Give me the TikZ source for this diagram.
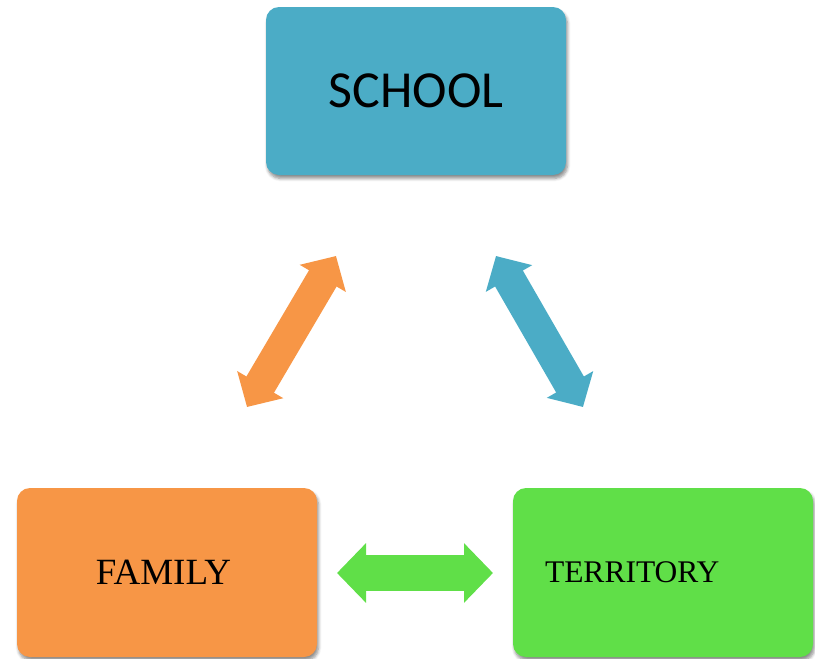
\documentclass[tikz,border=0pt]{standalone}
\usepackage{fontspec}
\setmainfont{Liberation Serif}
\newfontfamily\schoolfont{Carlito}
\usetikzlibrary{arrows.meta,shadows.blur}
\definecolor{cblue}{RGB}{75,172,198}
\definecolor{corange}{RGB}{247,150,70}
\definecolor{cgreen}{RGB}{96,223,72}
\tikzset{
  box/.style={rounded corners=13pt, minimum width=300pt, minimum height=168pt,
    inner sep=0pt, text=black,
    blur shadow={shadow xshift=1.5pt, shadow yshift=-3.5pt, shadow blur steps=6, shadow opacity=45, shadow blur radius=3pt}},
}
\begin{document}
\begin{tikzpicture}[x=1pt,y=-1pt]
\useasboundingbox (0,0) rectangle (815,659);
\node[box, fill=cblue, font=\schoolfont\fontsize{52}{60}\selectfont] (school) at (416,91) {SCHOOL};
\node[box, fill=corange, minimum height=169pt, text width=300pt, align=center, font=\fontsize{37}{44}\selectfont] (family) at (167,572.5) {\hspace*{-7pt}FAMILY};
\node[box, fill=cgreen, minimum height=169pt, text width=236pt, align=left, inner xsep=32pt, font=\fontsize{31.5}{38}\selectfont] (territory) at (663,572.5) {TERRITORY};
% arrows
\coordinate (oa) at (247,407);
\coordinate (ob) at (336,256);
\coordinate (ba) at (496,256);
\coordinate (bb) at (583,407);
\coordinate (ga) at (337,573);
\coordinate (gb) at (493,573);
\draw[corange, line width=32pt, {Triangle[width=52pt,length=26pt]}-{Triangle[width=52pt,length=26pt]}] (oa) -- (ob);
\draw[cblue, line width=32pt, {Triangle[width=52pt,length=26pt]}-{Triangle[width=52pt,length=26pt]}] (ba) -- (bb);
\draw[cgreen, line width=36pt, {Triangle[width=58pt,length=29pt]}-{Triangle[width=58pt,length=29pt]}] (ga) -- (gb);
\end{tikzpicture}
\end{document}
